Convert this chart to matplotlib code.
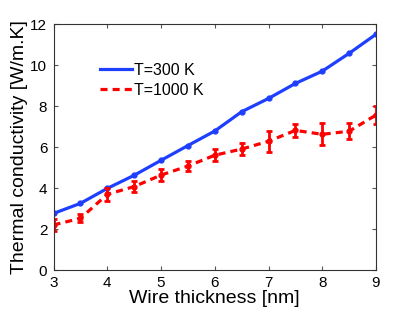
import matplotlib
matplotlib.use("Agg")
import matplotlib.pyplot as plt
from matplotlib.lines import Line2D

plt.rcParams['font.family'] = ['Liberation Sans', 'DejaVu Sans']

thickness = [3, 3.5, 4, 4.5, 5, 5.5, 6, 6.5, 7, 7.5, 8, 8.5, 9]
k300 = [2.76, 3.25, 3.98, 4.62, 5.35, 6.07, 6.78, 7.72, 8.37, 9.10, 9.70, 10.57, 11.50]
k1000 = [2.20, 2.52, 3.69, 4.07, 4.63, 5.07, 5.60, 5.90, 6.28, 6.81, 6.62, 6.77, 7.56]
k1000_err = [0.28, 0.20, 0.30, 0.28, 0.30, 0.25, 0.30, 0.30, 0.51, 0.31, 0.54, 0.38, 0.44]
labels = ['T=300 K', 'T=1000 K']

fig = plt.figure(figsize=(4.15, 3.12), dpi=100)
ax = fig.add_axes([0.129, 0.1346, 0.777, 0.7884])

ax.plot(thickness, k300, '-', color='#1f3fff', lw=2.3, marker='o', ms=3.5)
ax.errorbar(thickness, k1000, yerr=k1000_err, fmt='--', color='red', lw=2.3,
            marker='o', ms=3.5, capsize=2.5, elinewidth=2.0, capthick=2.0,
            dashes=(2.2, 1.6))

ax.set_xlim(3, 9)
ax.set_ylim(0, 12)
ax.set_xticks([3, 4, 5, 6, 7, 8, 9])
ax.set_yticks([0, 2, 4, 6, 8, 10, 12])
ax.tick_params(direction='in', top=True, right=True, labelsize=11, length=3,
               color='#555555', pad=4.5)
for s in ax.spines.values():
    s.set_color('#333333')
ax.set_xlabel('Wire thickness [nm]', fontsize=14, labelpad=0)
ax.set_ylabel('Thermal conductivity [W/m.K]', fontsize=14, labelpad=2)

handles = [Line2D([], [], color='#1f3fff', lw=2.3),
           Line2D([], [], color='red', lw=2.3, ls='--', dashes=(2.2, 1.6))]
ax.legend(handles, labels, loc='upper left', bbox_to_anchor=(0.1, 0.9), frameon=False,
          fontsize=11.5, handlelength=2.0, handletextpad=0.1, labelspacing=0.3)

fig.savefig('out.png', dpi=100)
